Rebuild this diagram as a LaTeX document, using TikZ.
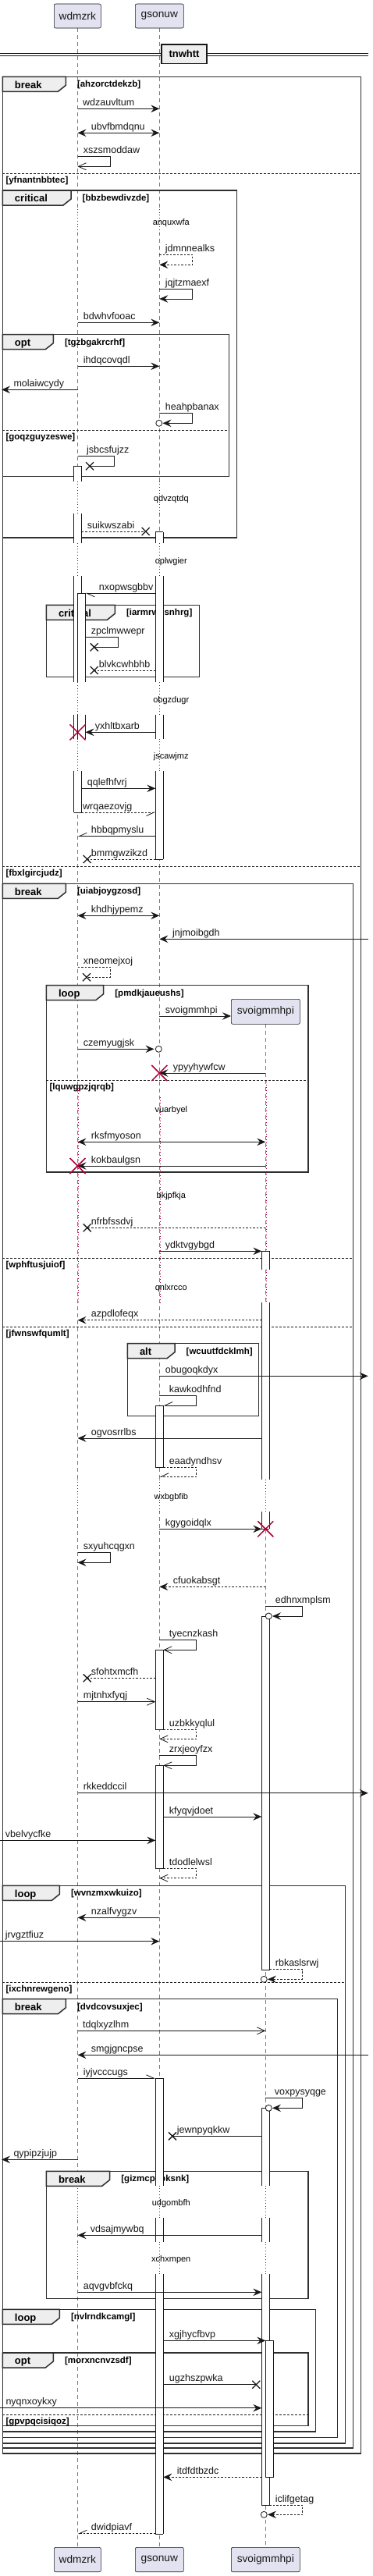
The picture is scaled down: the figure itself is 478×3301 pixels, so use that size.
\documentclass[tikz,border=0pt]{standalone}
\usepackage{fontspec}
\setmainfont{Liberation Sans}
\usetikzlibrary{arrows.meta}
\definecolor{partfill}{HTML}{E2E2F0}
\definecolor{tabfill}{HTML}{EEEEEE}
\definecolor{ink}{HTML}{181818}
\definecolor{delayc}{HTML}{A80036}
\definecolor{lifec}{HTML}{7A7A7A}
\def\A{99.5}\def\B{204.3}\def\C{340.3}
\tikzset{
  partbox/.style={draw=ink, fill=partfill, rounded corners=2pt, line width=0.6pt},
  ptext/.style={font=\fontsize{13.7}{16}\selectfont, text=ink, inner sep=0pt},
  lifel/.style={draw=lifec, line width=0.6pt, dash pattern=on 5pt off 4pt},
  dlyl/.style={draw=delayc, line width=0.9pt, dash pattern=on 0.9pt off 2.8pt},
  mline/.style={draw=ink, line width=0.8pt},
  fa/.style={mline, -{Stealth[length=11pt,width=9.5pt,inset=4pt]}},
  fab/.style={mline, {Stealth[length=11pt,width=9.5pt,inset=4pt]}-{Stealth[length=11pt,width=9.5pt,inset=4pt]}},
  oa/.style={mline, -{Straight Barb[length=10pt,width=9pt]}},
  ha/.style={mline, -{Straight Barb[length=10pt,width=9pt,harpoon]}},
  hs/.style={mline, -{Straight Barb[length=10pt,width=9pt,harpoon,swap]}},
  dm/.style={dash pattern=on 2.5pt off 2pt},
  lbl/.style={font=\fontsize{12.5}{14}\selectfont, text=ink, anchor=base west, inner sep=0pt},
  dtext/.style={font=\fontsize{11}{13}\selectfont, text=black, anchor=base, inner sep=0pt},
  frm/.style={draw=ink!90, line width=1.5pt},
  tabs/.style={draw=ink!90, line width=1.5pt, fill=tabfill},
  kwd/.style={font=\bfseries\fontsize{13}{15}\selectfont, text=black, anchor=base west, inner sep=0pt},
  condt/.style={font=\bfseries\fontsize{11.5}{13}\selectfont, text=black, anchor=base west, inner sep=0pt},
  sepl/.style={draw=ink, line width=0.8pt, dash pattern=on 2.5pt off 2.5pt},
  actl/.style={draw=ink, line width=0.8pt},
}
\newcommand{\sqframe}[7]{%
  \draw[frm] (#1,#2) rectangle (#3,#4);
  \draw[tabs] (#1,#2) -- (#5,#2) -- (#5,#2+11) -- (#5-10,#2+19) -- (#1,#2+19) -- cycle;
  \node[kwd] at (#1+15.5,#2+14.7) {#6};
  \node[condt] at (#5+14.5,#2+13.5) {[#7]};
}
\newcommand{\sqsep}[4]{%
  \draw[sepl] (#1,#3) -- (#2,#3);
  \node[condt] at (#1+4,#3+12.5) {[#4]};
}
\newcommand{\sqdelay}[4]{%
  \foreach \xx in {\A,\B} {\draw[white,line width=2pt] (\xx,#1) -- (\xx,#2); \draw[dlyl] (\xx,#1) -- (\xx,#2);}
  \node[dtext] at (219.3,#3+4) {#4};
}
\newcommand{\sqdelayc}[4]{%
  \foreach \xx in {\A,\B,\C} {\draw[white,line width=2pt] (\xx,#1) -- (\xx,#2); \draw[dlyl] (\xx,#1) -- (\xx,#2);}
  \node[dtext] at (219.3,#3+4) {#4};
}
\newcommand{\actseg}[3]{%
  \fill[white] (#1,#2) rectangle (#1+10,#3);
  \draw[actl] (#1,#2) -- (#1,#3) (#1+10,#2) -- (#1+10,#3);
}
\newcommand{\acth}[2]{\draw[actl] (#1,#2) -- (#1+10,#2);}
\newcommand{\actbox}[3]{\draw[actl, fill=white] (#1,#2) rectangle (#1+10,#3);}
\newcommand{\lostx}[2]{\draw[ink,line width=1.3pt] (#1-5,#2-5) -- (#1+5,#2+5) (#1-5,#2+5) -- (#1+5,#2-5);}
\newcommand{\killx}[2]{\draw[delayc,line width=1.5pt] (#1-10,#2-10) -- (#1+10,#2+10) (#1-10,#2+10) -- (#1+10,#2-10);}
\newcommand{\ocirc}[2]{\draw[ink,line width=0.8pt,fill=white] (#1,#2) circle[radius=4pt];}
\begin{document}
\begin{tikzpicture}[x=1pt,y=-1pt]
\useasboundingbox (0,0) rectangle (478,3301);
\fill[white] (0,0) rectangle (478,3301);
% ---------- lifelines
\draw[lifel] (\A,36) -- (\A,3264.3);
\draw[lifel] (\B,36) -- (\B,3264.3);
\draw[lifel] (\C,1312.3) -- (\C,3264.3);
% ---------- delays
\sqdelay{268}{298.3}{284.3}{anquxwfa}
\sqdelay{616.7}{658.3}{638.3}{qdvzqtdq}
\sqdelay{696}{738.3}{718.3}{oplwgier}
\sqdelay{874.3}{915.7}{896}{obgzdugr}
\sqdelay{946.7}{988.3}{968.3}{jscawjmz}
% long dotted stretch (vuarbyel, bkjpfkja, qnlxrcco): dotted beside the dashed lifelines
\draw[dlyl] (\A+1,1390) -- (\A+1,1669.3);
\draw[dlyl] (\B+1,1406) -- (\B+1,1669.3);
\draw[dlyl] (\C+1,1386) -- (\C+1,1669.3);
\node[dtext] at (219.3,1425) {vuarbyel};
\node[dtext] at (219.3,1535) {bkjpfkja};
\node[dtext] at (219.3,1653) {qnlxrcco};
\sqdelayc{1895.7}{1937.3}{1917.3}{wxbgbfib}
\sqdelayc{2800.7}{2842.3}{2822.3}{udgombfh}
\sqdelayc{2872.7}{2914.3}{2894.3}{xchxmpen}
% ---------- divider
\draw[ink,line width=0.8pt] (0,68.3) -- (471.7,68.3) (0,71.7) -- (471.7,71.7);
\node[draw=ink,line width=1.5pt,fill=tabfill,minimum width=58pt,minimum height=24.7pt,inner sep=0pt,font=\bfseries\fontsize{13}{15}\selectfont] (div) at (236,69.3) {tnwhtt};
% ---------- frames
\sqframe{3.3}{98.3}{462.7}{3144}{84.3}{break}{ahzorctdekzb}
\sqsep{3.3}{462.7}{222}{yfnantnbbtec}
\sqsep{3.3}{462.7}{1110}{fbxlgircjudz}
\sqframe{3.3}{244}{303.3}{689}{91}{critical}{bbzbewdivzde}
\sqframe{3.3}{428.7}{293.7}{610.3}{68.3}{opt}{tgzbgakrcrhf}
\sqsep{3.3}{293.7}{551.3}{goqzguyzeswe}
\sqframe{59.3}{775.3}{255.7}{867.3}{147.3}{critical}{iarmrwpsnhrg}
\sqframe{3.3}{1132.3}{452.3}{3137}{84.3}{break}{uiabjoygzosd}
\sqsep{3.3}{452.3}{1612.3}{wphftusjuiof}
\sqsep{3.3}{452.3}{1700.3}{jfwnswfqumlt}
\sqframe{59.3}{1262.7}{395}{1502}{132.7}{loop}{pmdkjaueushs}
\sqsep{59.3}{395}{1384.3}{lquwgpzjqrqb}
\sqframe{163.3}{1721.7}{331.7}{1814.3}{224}{alt}{wcuutfdcklmh}
\sqframe{3.3}{2416.3}{442.7}{3131}{76.3}{loop}{wvnzmxwkuizo}
\sqsep{3.3}{442.7}{2540.3}{ixchnrewgeno}
\sqframe{3.3}{2561.7}{432.7}{3123.3}{84.3}{break}{dvdcovsuxjec}
\sqframe{59.3}{2782.3}{395}{2945.3}{140.7}{break}{gizmcpspksnk}
\sqframe{3.3}{2959.3}{404.3}{3116}{76.3}{loop}{nvlrndkcamgl}
\sqframe{3.3}{3015}{395}{3108.3}{68.3}{opt}{morxncnvzsdf}
\sqsep{3.3}{395}{3094.3}{gpvpqcisiqoz}
% ---------- activations
% wdmzrk A1
\actseg{94.5}{597.3}{616.7}\actseg{94.5}{658.3}{696}\actseg{94.5}{738.3}{874.3}\actseg{94.5}{915.7}{946.7}\actseg{94.5}{988.3}{1041}
\acth{94.5}{597.3}\acth{94.5}{1041}
% wdmzrk A2
\actseg{99.5}{760.3}{874.3}\actseg{99.5}{915.7}{946.7}\acth{99.5}{760.3}
% gsonuw
\actseg{199.3}{681.7}{696}\actseg{199.3}{738.3}{874.3}\actseg{199.3}{915.7}{946.7}\actseg{199.3}{988.3}{1101}
\acth{199.3}{681.7}\acth{199.3}{1101}
\actbox{199.3}{1801}{1880}
\actbox{199.3}{2114.3}{2216}
\actbox{199.3}{2262.3}{2394}
\actseg{199.3}{2663.3}{2800.7}\actseg{199.3}{2842.3}{2872.7}\actseg{199.3}{2914.3}{3247.3}
\acth{199.3}{2663.3}\acth{199.3}{3247.3}
% svoigmmhpi
\actseg{335.3}{1603.3}{1627.3}\actseg{335.3}{1669.3}{1895.7}\actseg{335.3}{1937.3}{1959.3}
\acth{335.3}{1603.3}\acth{335.3}{1959.3}
\actbox{335.3}{2071}{2524.3}
\actseg{335.3}{2701.3}{2800.7}\actseg{335.3}{2842.3}{2872.7}\actseg{335.3}{2914.3}{3210}
\acth{335.3}{2701.3}\acth{335.3}{3210}
\actbox{340.3}{2999.3}{3174.3}
% ---------- participants
\node[partbox,ptext,minimum width=60pt,minimum height=31pt] (wt) at (99.3,20.5) {wdmzrk};
\node[partbox,ptext,minimum width=62pt,minimum height=31pt] (gt) at (204.3,20.5) {gsonuw};
\node[partbox,ptext,minimum width=88pt,minimum height=32pt] (sm) at (340.3,1296.3) {svoigmmhpi};
\node[partbox,ptext,minimum width=60pt,minimum height=31.4pt] (wb) at (99.3,3280) {wdmzrk};
\node[partbox,ptext,minimum width=62pt,minimum height=31.4pt] (gb) at (204.3,3280) {gsonuw};
\node[partbox,ptext,minimum width=88pt,minimum height=31.4pt] (sb) at (340.3,3280) {svoigmmhpi};
% ---------- messages
\draw[fa] (\A,139.3) -- (\B,139.3); \node[lbl] at (106,135.3) {wdzauvltum};
\draw[fab] (\A,170.3) -- (\B,170.3); \node[lbl] at (116.7,166.3) {ubvfbmdqnu};
\draw[oa] (\A,200.3) -- (141.7,200.3) -- (141.7,213.3) -- (\A,213.3); \node[lbl] at (106.7,196.3) {xszsmoddaw};
\draw[fa,dm] (\B,326.3) -- (246.7,326.3) -- (246.7,339.3) -- (\B,339.3); \node[lbl] at (211.7,322.3) {jdmnnealks};
\draw[fa] (\B,370.7) -- (246.7,370.7) -- (246.7,383) -- (\B,383); \node[lbl] at (211.7,366.7) {jqjtzmaexf};
\draw[fa] (\A,413.3) -- (\B,413.3); \node[lbl] at (106.7,409.3) {bdwhvfooac};
\draw[fa] (\A,469.3) -- (\B,469.3); \node[lbl] at (106.7,465.3) {ihdqcovqdl};
\draw[fa] (\A,499.3) -- (2,499.3); \node[lbl] at (17.3,495.3) {molaiwcydy};
\draw[fa] (\B,529.3) -- (246.7,529.3) -- (246.7,542.3) -- (208.5,542.3); \ocirc{203.8}{542.3} \node[lbl] at (211.7,525.3) {heahpbanax};
\draw[mline] (\A,584.3) -- (146.7,584.3) -- (146.7,597.3) -- (115,597.3); \lostx{115}{597.3} \node[lbl] at (111,580.3) {jsbcsfujzz};
\draw[mline,dm] (104.5,681) -- (186.7,681); \lostx{186.7}{681} \node[lbl] at (111.7,677) {suikwszabi};
\draw[ha] (199.3,760.3) -- (109.5,760.3); \node[lbl] at (126.7,756.3) {nxopwsgbbv};
\draw[mline] (109.5,816.7) -- (151.7,816.7) -- (151.7,829.3) -- (120.7,829.3); \lostx{120.7}{829.3} \node[lbl] at (116.7,812.7) {zpclmwwepr};
\draw[mline,dm] (199.3,859) -- (120.7,859); \lostx{120.7}{859} \node[lbl] at (126.7,855) {blvkcwhbhb};
\draw[fa] (199.3,938.3) -- (109.5,938.3); \killx{\A}{938.3} \node[lbl] at (121.7,934.3) {yxhltbxarb};
\draw[fa] (104.5,1010.3) -- (199.3,1010.3); \node[lbl] at (111.7,1006.3) {qqlefhfvrj};
\draw[hs,dm] (104.5,1041) -- (199.3,1041); \node[lbl] at (106,1037) {wrqaezovjg};
\draw[hs] (199.3,1071.7) -- (\A,1071.7); \node[lbl] at (116.7,1067.7) {hbbqpmyslu};
\draw[mline,dm] (199.3,1101) -- (111.7,1101); \lostx{111.7}{1101} \node[lbl] at (116.7,1097) {bmmgwzikzd};
\draw[fab] (\A,1173.3) -- (\B,1173.3); \node[lbl] at (116.7,1169.3) {khdhjypemz};
\draw[fa] (471.7,1203.3) -- (\B,1203.3); \node[lbl] at (221,1199.3) {jnjmoibgdh};
\draw[mline,dm] (\A,1239.3) -- (141.7,1239.3) -- (141.7,1252.3) -- (111,1252.3); \lostx{111}{1252.3} \node[lbl] at (106.7,1235.3) {xneomejxoj};
\draw[fa] (\B,1302) -- (sm.west |- 0,1302); \node[lbl] at (211.7,1298) {svoigmmhpi};
\draw[fa] (\A,1344.3) -- (197.5,1344.3); \ocirc{203.3}{1344.3} \node[lbl] at (106.7,1340.3) {czemyugjsk};
\draw[fa] (\C,1375) -- (\B,1375); \killx{\B}{1375} \node[lbl] at (221.7,1371) {ypyyhywfcw};
\draw[fab] (\A,1463.3) -- (\C,1463.3); \node[lbl] at (116.7,1459.3) {rksfmyoson};
\draw[fa] (\C,1494) -- (\A,1494); \killx{\A}{1494} \node[lbl] at (116.7,1490) {kokbaulgsn};
\draw[mline,dm] (\C,1573.3) -- (111.7,1573.3); \lostx{111.7}{1573.3} \node[lbl] at (116.7,1569.3) {nfrbfssdvj};
\draw[fa] (\B,1603.3) -- (335.3,1603.3); \node[lbl] at (211.7,1599.3) {ydktvgybgd};
\draw[fa,dm] (335.3,1691.7) -- (\A,1691.7); \node[lbl] at (116.7,1687.7) {azpdlofeqx};
\draw[fa] (\B,1763.3) -- (471.7,1763.3); \node[lbl] at (211.7,1759.3) {obugoqkdyx};
\draw[hs] (\B,1788.3) -- (251.7,1788.3) -- (251.7,1801) -- (209.3,1801); \node[lbl] at (216.7,1784.3) {kawkodhfnd};
\draw[fa] (335.3,1843) -- (\A,1843); \node[lbl] at (116.7,1839) {ogvosrrlbs};
\draw[hs,dm] (209.3,1880) -- (251.7,1880) -- (251.7,1892.3) -- (\B,1892.3); \node[lbl] at (216.7,1876) {eaadyndhsv};
\draw[fa] (\B,1959.3) -- (335.3,1959.3); \killx{\C}{1959.3} \node[lbl] at (211.7,1955.3) {kgygoidqlx};
\draw[fa] (\A,1989.3) -- (141.7,1989.3) -- (141.7,2002.3) -- (\A,2002.3); \node[lbl] at (106.7,1985.3) {sxyuhcqgxn};
\draw[fa,dm] (\C,2033.3) -- (\B,2033.3); \node[lbl] at (221.7,2029.3) {cfuokabsgt};
\draw[fa] (\C,2058.3) -- (387.7,2058.3) -- (387.7,2071) -- (349,2071); \ocirc{344.3}{2071} \node[lbl] at (352.7,2054.3) {edhnxmplsm};
\draw[oa] (\B,2101.7) -- (251.7,2101.7) -- (251.7,2114.3) -- (209.3,2114.3); \node[lbl] at (216.7,2097.7) {tyecnzkash};
\draw[mline,dm] (199.3,2150.3) -- (111.7,2150.3); \lostx{111.7}{2150.3} \node[lbl] at (116.7,2146.3) {sfohtxmcfh};
\draw[oa] (\A,2180.7) -- (199.3,2180.7); \node[lbl] at (106.7,2176.7) {mjtnhxfyqj};
\draw[oa,dm] (209.3,2216) -- (251.7,2216) -- (251.7,2228.3) -- (\B,2228.3); \node[lbl] at (216.7,2212) {uzbkkyqlul};
\draw[oa] (\B,2249.7) -- (251.7,2249.7) -- (251.7,2262.3) -- (209.3,2262.3); \node[lbl] at (216.7,2245.7) {zrxjeoyfzx};
\draw[fa] (\A,2297.7) -- (471.7,2297.7); \node[lbl] at (106.7,2293.7) {rkkeddccil};
\draw[fa] (209.3,2328) -- (335.3,2328); \node[lbl] at (216.7,2324) {kfyqvjdoet};
\draw[fa] (0,2358.3) -- (199.3,2358.3); \node[lbl] at (6.7,2354.3) {vbelvycfke};
\draw[oa,dm] (209.3,2394) -- (251.7,2394) -- (251.7,2406.7) -- (\B,2406.7); \node[lbl] at (216.7,2390) {tdodlelwsl};
\draw[fa] (\B,2457.3) -- (\A,2457.3); \node[lbl] at (116.7,2453.3) {nzalfvygzv};
\draw[fa] (0,2487.7) -- (\B,2487.7); \node[lbl] at (6.7,2483.7) {jrvgztfiuz};
\draw[fa,dm] (345.3,2523.7) -- (387.7,2523.7) -- (387.7,2536.3) -- (343,2536.3); \ocirc{338.3}{2536.3} \node[lbl] at (352.7,2519.7) {rbkaslsrwj};
\draw[oa] (\A,2602.3) -- (\C,2602.3); \node[lbl] at (106,2598.3) {tdqlxyzlhm};
\draw[fa] (471.7,2633.3) -- (\A,2633.3); \node[lbl] at (116.7,2629.3) {smgjgncpse};
\draw[ha] (\A,2663.3) -- (199.3,2663.3); \node[lbl] at (106.7,2659.3) {iyjvcccugs};
\draw[fa] (\C,2688.7) -- (387.7,2688.7) -- (387.7,2701.3) -- (349,2701.3); \ocirc{344.3}{2701.3} \node[lbl] at (351.7,2684.7) {voxpysyqge};
\draw[mline] (335.3,2737.3) -- (221,2737.3); \lostx{221}{2737.3} \node[lbl] at (226.7,2733.3) {jewnpyqkkw};
\draw[fa] (\A,2767.3) -- (2,2767.3); \node[lbl] at (17.3,2763.3) {qypipzjujp};
\draw[fa] (335.3,2864.3) -- (\A,2864.3); \node[lbl] at (115.7,2860.3) {vdsajmywbq};
\draw[fa] (\A,2937.3) -- (335.3,2937.3); \node[lbl] at (106.7,2933.3) {aqvgvbfckq};
\draw[fa] (209.3,2999.3) -- (340.3,2999.3); \node[lbl] at (216.7,2995.3) {xgjhycfbvp};
\draw[mline] (209.3,3055.7) -- (328.3,3055.7); \lostx{328.3}{3055.7} \node[lbl] at (216.7,3051.7) {ugzhszpwka};
\draw[fa] (0,3085.7) -- (335.3,3085.7); \node[lbl] at (7.3,3081.7) {nyqnxoykxy};
\draw[fa,dm] (335.3,3174.3) -- (209.3,3174.3); \node[lbl] at (226.7,3170.3) {itdfdtbzdc};
\draw[fa,dm] (345.3,3210) -- (387.7,3210) -- (387.7,3222.3) -- (343,3222.3); \ocirc{338.3}{3222.3} \node[lbl] at (352.7,3206) {iclifgetag};
\draw[hs,dm] (199.3,3246.7) -- (\A,3246.7); \node[lbl] at (116.7,3242.7) {dwidpiavf};
\end{tikzpicture}
\end{document}
